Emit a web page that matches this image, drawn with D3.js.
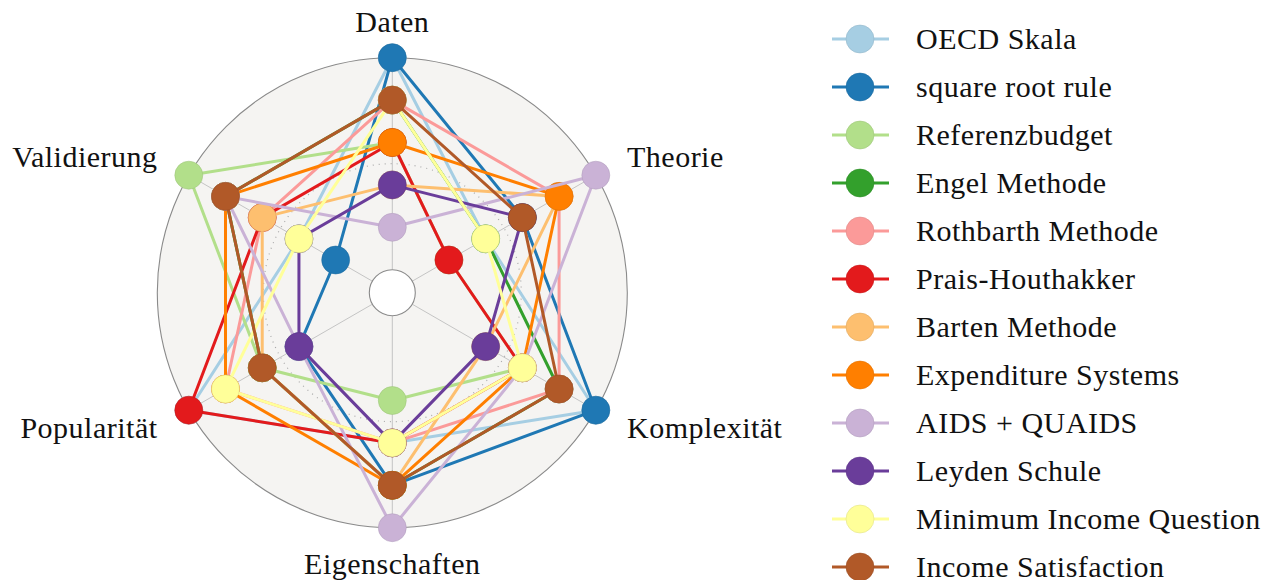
<!DOCTYPE html>
<html lang='de'>
	<head>
		<title>Methodenvergleich</title>
		<meta charset=utf-8>
		<script src="https://cdnjs.cloudflare.com/ajax/libs/d3/7.8.5/d3.min.js" charset="utf-8"></script>
		<style>
			body {
				margin: 0;
				background-color: white;
			}
			text {
				font-family: 'Liberation Serif', serif;
				font-size: 30px;
				letter-spacing: 0.5px;
				fill: #111;
			}
		</style>
	</head>
	<body>
		<svg id='chart' width="1277" height="580"></svg>
	</body>

	<script>
		// axes, clockwise from the top
		const axes = ['Daten', 'Theorie', 'Komplexität', 'Eigenschaften', 'Popularität', 'Validierung'];

		const methods = ['OECD Skala', 'square root rule', 'Referenzbudget', 'Engel Methode',
			'Rothbarth Methode', 'Prais-Houthakker', 'Barten Methode', 'Expenditure Systems',
			'AIDS + QUAIDS', 'Leyden Schule', 'Minimum Income Question', 'Income Satisfaction'];

		// score 0..5 per axis, same order as axes
		const scores = [
			[5, 2, 5, 3, 5, 2],
			[5, 3, 5, 4, 2, 1],
			[3, 1, 3, 2, 3, 5],
			[4, 2, 4, 4, 3, 4],
			[4, 4, 4, 3, 4, 3],
			[3, 1, 3, 3, 5, 3],
			[2, 4, 2, 4, 3, 3],
			[3, 4, 3, 4, 4, 4],
			[1, 5, 3, 5, 2, 4],
			[2, 3, 2, 3, 2, 2],
			[4, 2, 3, 3, 4, 2],
			[4, 3, 4, 4, 3, 4]
		];

		const ticks = [2.5];   // dotted reference ring

		// settings
		const cx = 392.3, cy = 292.7;
		const inner = 23, outer = 235;
		const colors = d3.schemePaired;

		const svg = d3.select('#chart');
		const r = d3.scaleLinear().domain([0, 5]).range([inner, outer]);
		const ang = d3.scalePoint().domain(axes).range([0, 2 * Math.PI * 5 / 6]);

		const px = function(a, v) { return cx + r(v) * Math.sin(ang(a)); };
		const py = function(a, v) { return cy - r(v) * Math.cos(ang(a)); };

		// background disc
		svg.append('circle').attr('cx', cx).attr('cy', cy).attr('r', outer)
			.attr('fill', '#f5f4f2').attr('stroke', '#8a8a8a').attr('stroke-width', 1.1);

		// spokes
		axes.forEach(function(a) {
			svg.append('line')
				.attr('x1', px(a, 0)).attr('y1', py(a, 0))
				.attr('x2', px(a, 5)).attr('y2', py(a, 5))
				.attr('stroke', '#c4c4c4').attr('stroke-width', 1);
		});

		ticks.forEach(function(t) {
			svg.append('circle').attr('cx', cx).attr('cy', cy).attr('r', r(t))
				.attr('fill', 'none').attr('stroke', '#aaa').attr('stroke-width', 1.2)
				.attr('stroke-dasharray', '1 5');
		});

		svg.append('circle').attr('cx', cx).attr('cy', cy).attr('r', inner)
			.attr('fill', 'white').attr('stroke', '#8a8a8a').attr('stroke-width', 1.1);

		// axis labels
		const lr = 271;
		axes.forEach(function(a) {
			const s = Math.sin(ang(a));
			const anchor = Math.abs(s) < 0.01 ? 'middle' : (s > 0 ? 'start' : 'end');
			svg.append('text').text(a)
				.attr('x', cx + lr * s).attr('y', cy - lr * Math.cos(ang(a)))
				.attr('dy', '0.33em').attr('text-anchor', anchor);
		});

		// series: line then markers, in legend order
		const line = d3.line()
			.x(function(d, i) { return px(axes[i], d); })
			.y(function(d, i) { return py(axes[i], d); })
			.curve(d3.curveLinearClosed);

		methods.forEach(function(m, k) {
			const g = svg.append('g');
			g.append('path').attr('d', line(scores[k]))
				.attr('fill', 'none').attr('stroke', colors[k]).attr('stroke-width', 3)
				.attr('stroke-linejoin', 'round');
			g.selectAll('circle').data(scores[k]).join('circle')
				.attr('cx', function(d, i) { return px(axes[i], d); })
				.attr('cy', function(d, i) { return py(axes[i], d); })
				.attr('r', 14)
				.attr('fill', colors[k])
				.attr('stroke', d3.color(colors[k]).darker(0.4)).attr('stroke-width', 0.5);
		});

		// legend
		const ly = d3.scalePoint().domain(methods).range([39, 567]);
		methods.forEach(function(m, k) {
			const y = ly(m);
			svg.append('line').attr('x1', 832).attr('x2', 889).attr('y1', y).attr('y2', y)
				.attr('stroke', colors[k]).attr('stroke-width', 3);
			svg.append('circle').attr('cx', 860).attr('cy', y).attr('r', 14)
				.attr('fill', colors[k]).attr('stroke', d3.color(colors[k]).darker(0.4)).attr('stroke-width', 0.5);
			svg.append('text').text(m).attr('x', 916).attr('y', y + 10);
		});
	</script>
</html>
